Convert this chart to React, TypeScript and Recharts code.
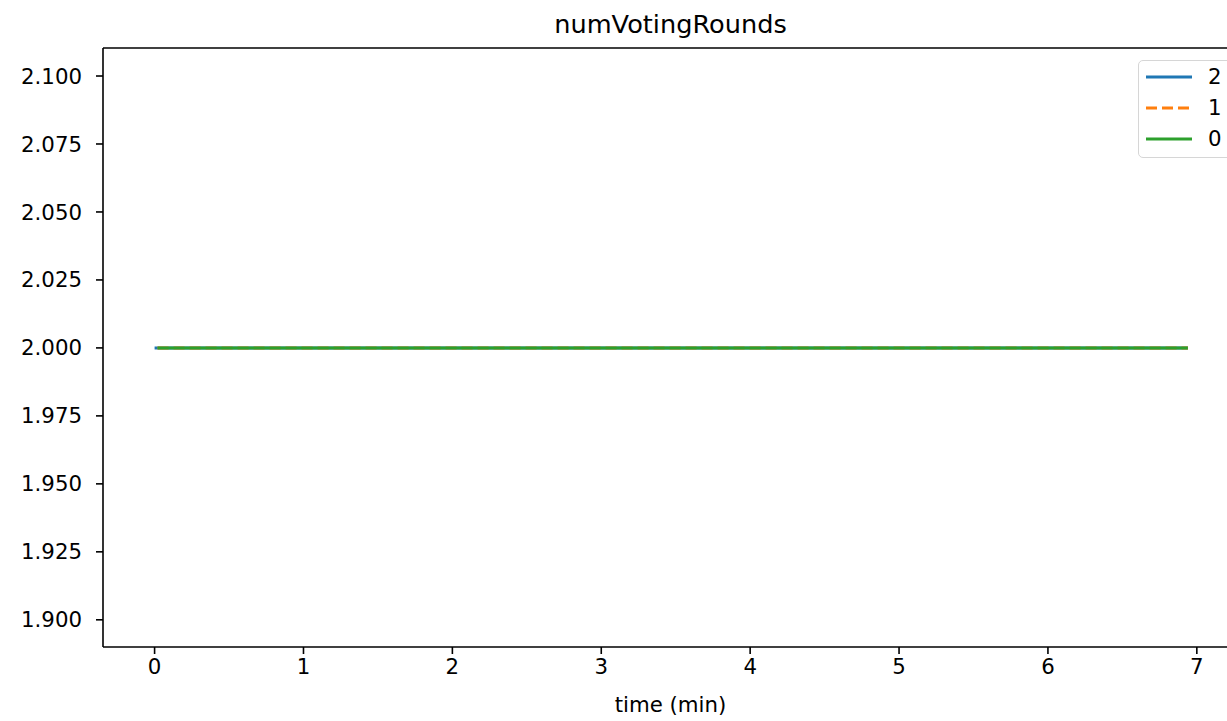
import React from 'react';
import { LineChart, Line, XAxis, YAxis, ReferenceLine } from 'recharts';

// run times (minutes) and numVotingRounds per node
const times2 = [0, 0.5, 1, 1.5, 2, 2.5, 3, 3.5, 4, 4.5, 5, 5.5, 6, 6.5, 6.94];
const rounds2 = [2, 2, 2, 2, 2, 2, 2, 2, 2, 2, 2, 2, 2, 2, 2];
const times1 = [0.02, 0.5, 1, 1.5, 2, 2.5, 3, 3.5, 4, 4.5, 5, 5.5, 6, 6.5, 6.94];
const rounds1 = [2, 2, 2, 2, 2, 2, 2, 2, 2, 2, 2, 2, 2, 2, 2];
const times0 = [0.02, 0.5, 1, 1.5, 2, 2.5, 3, 3.5, 4, 4.5, 5, 5.5, 6, 6.5, 6.94];
const rounds0 = [2, 2, 2, 2, 2, 2, 2, 2, 2, 2, 2, 2, 2, 2, 2];

const xTicks = [0, 1, 2, 3, 4, 5, 6, 7];
const yTicks = [1.9, 1.925, 1.95, 1.975, 2.0, 2.025, 2.05, 2.075, 2.1];
const yMin = 1.89;
const yMax = 2.1103;

const series = [
  { name: '2', color: '#1f77b4', dash: undefined as string | undefined, data: times2.map((t, i) => ({ t, v: rounds2[i] })) },
  { name: '1', color: '#ff7f0e', dash: '11 5', data: times1.map((t, i) => ({ t, v: rounds1[i] })) },
  { name: '0', color: '#2ca02c', dash: undefined as string | undefined, data: times0.map((t, i) => ({ t, v: rounds0[i] })) },
];

const font = '"DejaVu Sans", sans-serif';
const tickFont = 21.3;

function LegendBox() {
  return (
    <div
      style={{
        position: 'absolute',
        left: 1138,
        top: 60,
        border: '1.5px solid #d6d6d6',
        borderRadius: 5,
        background: 'rgba(255,255,255,0.8)',
        padding: '0px 0 3px 6px',
        width: 120,
        fontFamily: font,
        fontSize: tickFont,
      }}
    >
      {series.map((s) => (
        <div key={s.name} style={{ display: 'flex', alignItems: 'center', height: 31 }}>
          <svg width={48} height={10} style={{ marginRight: 15 }}>
            <line x1={1} x2={47} y1={5} y2={5} stroke={s.color} strokeWidth={3} strokeDasharray={s.dash} />
          </svg>
          <span style={{ color: '#000' }}>{s.name}</span>
        </div>
      ))}
    </div>
  );
}

export default function App() {
  return (
    <div
      style={{
        position: 'absolute',
        left: 0,
        top: 0,
        width: 1227,
        height: 721,
        overflow: 'hidden',
        background: '#fff',
      }}
    >
      <div
        style={{
          position: 'absolute',
          left: 370.5,
          width: 600,
          top: 9,
          textAlign: 'center',
          fontFamily: font,
          fontSize: 25.6,
          lineHeight: '30px',
          color: '#000',
        }}
      >
        numVotingRounds
      </div>
      <LineChart width={1260} height={721} margin={{ top: 48, right: 22, bottom: 0, left: 0 }}>
        <XAxis
          dataKey="t"
          type="number"
          domain={[-0.3465, 7.2765]}
          allowDataOverflow
          ticks={xTicks}
          tickFormatter={(v: number) => String(v)}
          height={74}
          tickSize={7}
          tickMargin={5}
          axisLine={{ stroke: '#000', strokeWidth: 1.6 }}
          tickLine={{ stroke: '#000', strokeWidth: 1.6 }}
          tick={{ fill: '#000', fontSize: tickFont, fontFamily: font }}
          label={{ value: 'time (min)', position: 'insideBottom', offset: 9, fill: '#000', fontSize: tickFont, fontFamily: font }}
        />
        <YAxis
          type="number"
          domain={[yMin, yMax]}
          allowDataOverflow
          ticks={yTicks}
          tickFormatter={(v: number) => v.toFixed(3)}
          width={103}
          tickSize={7}
          tickMargin={14}
          axisLine={{ stroke: '#000', strokeWidth: 1.6 }}
          tickLine={{ stroke: '#000', strokeWidth: 1.6 }}
          tick={{ fill: '#000', fontSize: tickFont, fontFamily: font }}
        />
        <ReferenceLine y={yMax} stroke="#000" strokeWidth={1.6} ifOverflow="extendDomain" />
        {series.map((s) => (
          <Line
            key={s.name}
            data={s.data}
            dataKey="v"
            name={s.name}
            type="linear"
            stroke={s.color}
            strokeWidth={3}
            strokeDasharray={s.dash}
            dot={false}
            activeDot={false}
            isAnimationActive={false}
          />
        ))}
      </LineChart>
      <LegendBox />
    </div>
  );
}
